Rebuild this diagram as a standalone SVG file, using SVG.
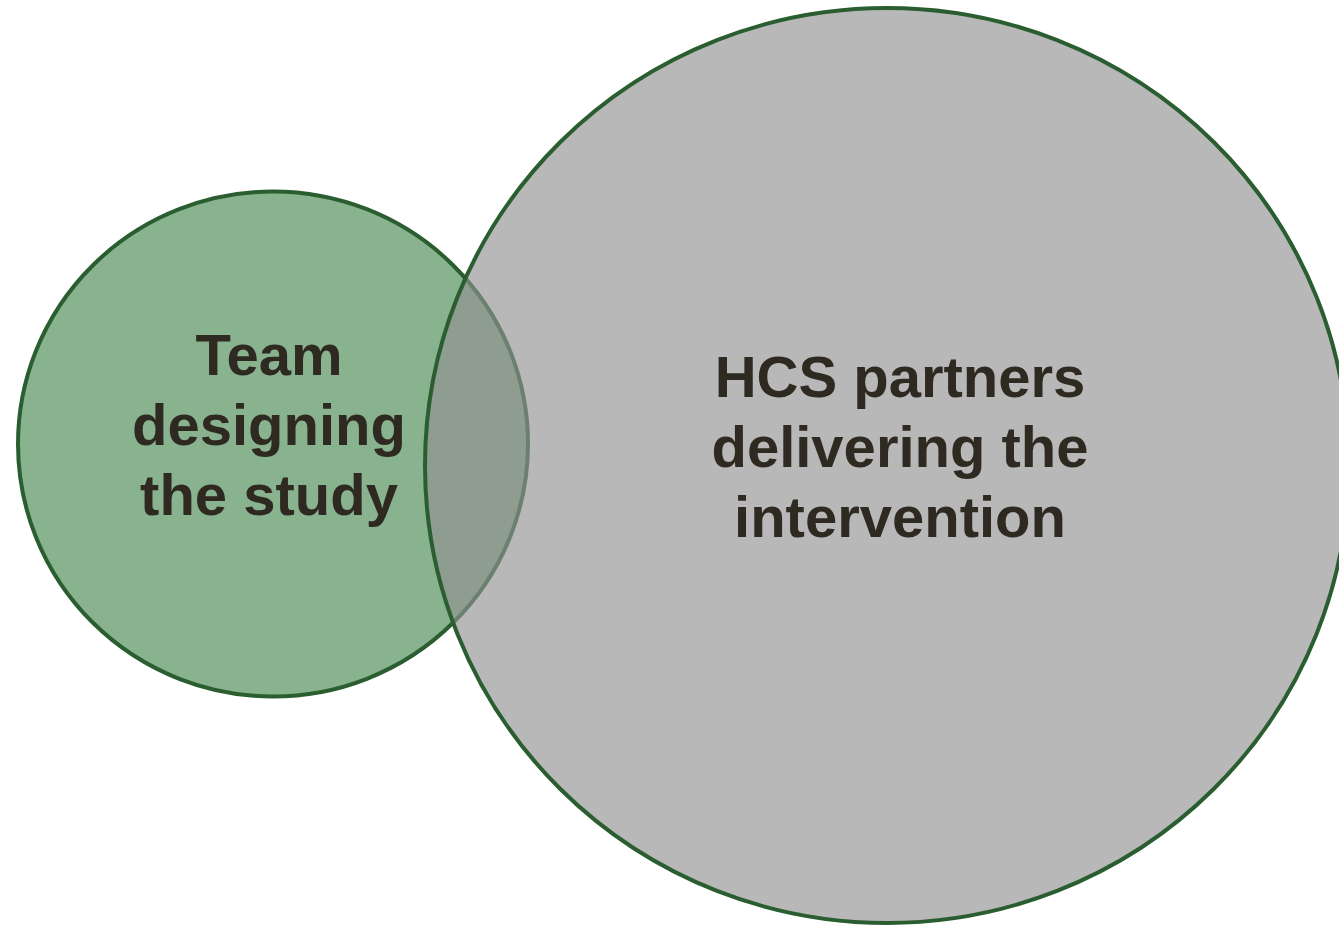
<svg xmlns="http://www.w3.org/2000/svg" width="1339" height="927" viewBox="0 0 1339 927">
<style>
.lbl{font-family:"Liberation Sans",Arial,sans-serif;font-weight:bold;font-size:58px;fill:#2e2a22;text-anchor:middle}
.circ{stroke:#2a5e30;stroke-width:4}
</style>
<rect width="1339" height="927" fill="#ffffff"/>
<g id="team">
<ellipse class="circ" cx="273" cy="444" rx="255" ry="252.5" fill="#88b38e"/>
</g>
<g id="hcs">
<ellipse class="circ" cx="887" cy="465.5" rx="462" ry="457.5" fill="#929292" fill-opacity="0.65"/>
</g>
<g id="connectors"></g>
<g id="team-label">
<text class="lbl" x="269" y="375">Team</text>
<text class="lbl" x="269" y="445">designing</text>
<text class="lbl" x="269" y="515">the study</text>
</g>
<g id="hcs-label">
<text class="lbl" x="900" y="397">HCS partners</text>
<text class="lbl" x="900" y="467">delivering the</text>
<text class="lbl" x="900" y="537">intervention</text>
</g>
</svg>
